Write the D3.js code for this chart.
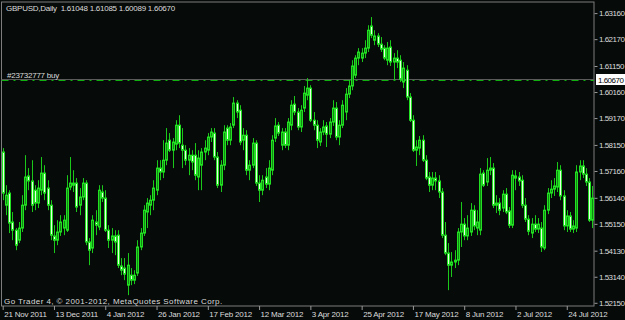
<!DOCTYPE html>
<html>
<head>
<meta charset="utf-8">
<script src="https://cdn.jsdelivr.net/npm/d3@7/dist/d3.min.js"></script>
<style>
    html, body { margin: 0; padding: 0; background: #060a09; }
    svg { display: block; }
    .lbl { font-family: 'Liberation Sans', Arial, sans-serif; font-size: 8px; letter-spacing: -0.2px; fill: #dcdcdc; }
    .plbl { letter-spacing: -0.5px; }
</style>
</head>
<body>
<div id="chart"></div>
<script>
const symbol = 'GBPUSD,Daily';
const lastBar = ['1.61048', '1.61085', '1.60089', '1.60670'];
const orderLabel = '#23732777 buy';
const orderPrice = 1.60620;
const bidPrice = 1.60670;
const copyright = 'Go Trader 4, \u00a9 2001-2012, MetaQuotes Software Corp.';

const priceTicks = [1.63160, 1.62170, 1.61150, 1.60160, 1.59170, 1.58150,
    1.57160, 1.56140, 1.55150, 1.54130, 1.53140, 1.52150];

const dateTickBars = [0, 16, 32, 48, 64, 80, 96, 112, 128, 144, 160, 176];
const dateLabels = ['21 Nov 2011', '13 Dec 2011', '4 Jan 2012', '26 Jan 2012',
    '17 Feb 2012', '12 Mar 2012', '3 Apr 2012', '25 Apr 2012',
    '17 May 2012', '8 Jun 2012', '2 Jul 2012', '24 Jul 2012'];

// open, high, low, close
const bars = [
    [1.5788, 1.5803, 1.5605, 1.5632], [1.5586, 1.5662, 1.5548, 1.5624], [1.5632, 1.5643, 1.5480, 1.5518],
    [1.5522, 1.5560, 1.5453, 1.5491], [1.5491, 1.5499, 1.5415, 1.5434], [1.5453, 1.5522, 1.5442, 1.5499],
    [1.5499, 1.5624, 1.5484, 1.5586], [1.5586, 1.5776, 1.5567, 1.5693], [1.5697, 1.5727, 1.5643, 1.5678],
    [1.5678, 1.5757, 1.5560, 1.5586], [1.5643, 1.5662, 1.5567, 1.5594], [1.5594, 1.5681, 1.5575, 1.5651],
    [1.5643, 1.5769, 1.5624, 1.5708], [1.5708, 1.5738, 1.5605, 1.5632], [1.5651, 1.5681, 1.5567, 1.5586],
    [1.5586, 1.5605, 1.5453, 1.5472], [1.5469, 1.5510, 1.5404, 1.5453], [1.5453, 1.5529, 1.5434, 1.5484],
    [1.5484, 1.5548, 1.5469, 1.5522], [1.5499, 1.5548, 1.5472, 1.5529], [1.5491, 1.5700, 1.5484, 1.5651],
    [1.5655, 1.5769, 1.5643, 1.5670], [1.5670, 1.5719, 1.5636, 1.5662], [1.5670, 1.5689, 1.5560, 1.5579],
    [1.5586, 1.5651, 1.5548, 1.5617], [1.5617, 1.5689, 1.5605, 1.5670], [1.5670, 1.5681, 1.5434, 1.5446],
    [1.5446, 1.5461, 1.5358, 1.5415], [1.5423, 1.5548, 1.5404, 1.5529], [1.5522, 1.5567, 1.5472, 1.5510],
    [1.5503, 1.5662, 1.5491, 1.5643], [1.5636, 1.5662, 1.5598, 1.5613], [1.5613, 1.5643, 1.5484, 1.5491],
    [1.5491, 1.5510, 1.5423, 1.5453], [1.5453, 1.5499, 1.5404, 1.5469], [1.5469, 1.5491, 1.5396, 1.5446],
    [1.5472, 1.5491, 1.5347, 1.5358], [1.5355, 1.5385, 1.5320, 1.5339], [1.5347, 1.5385, 1.5301, 1.5324],
    [1.5282, 1.5404, 1.5244, 1.5358], [1.5320, 1.5347, 1.5282, 1.5301], [1.5301, 1.5339, 1.5286, 1.5320],
    [1.5328, 1.5453, 1.5317, 1.5427], [1.5427, 1.5499, 1.5415, 1.5480], [1.5480, 1.5586, 1.5469, 1.5567],
    [1.5560, 1.5613, 1.5499, 1.5594], [1.5586, 1.5624, 1.5548, 1.5605], [1.5605, 1.5681, 1.5567, 1.5651],
    [1.5643, 1.5757, 1.5624, 1.5727], [1.5727, 1.5757, 1.5681, 1.5712], [1.5712, 1.5833, 1.5689, 1.5757],
    [1.5757, 1.5879, 1.5738, 1.5822], [1.5833, 1.5860, 1.5788, 1.5795], [1.5795, 1.5841, 1.5727, 1.5826],
    [1.5818, 1.5909, 1.5795, 1.5890], [1.5890, 1.5928, 1.5803, 1.5822], [1.5814, 1.5879, 1.5727, 1.5795],
    [1.5795, 1.5814, 1.5738, 1.5757], [1.5757, 1.5803, 1.5700, 1.5776], [1.5776, 1.5795, 1.5719, 1.5750],
    [1.5776, 1.5822, 1.5681, 1.5700], [1.5693, 1.5795, 1.5643, 1.5765], [1.5738, 1.5803, 1.5643, 1.5788],
    [1.5788, 1.5833, 1.5757, 1.5803], [1.5795, 1.5860, 1.5776, 1.5845], [1.5845, 1.5879, 1.5826, 1.5864],
    [1.5860, 1.5879, 1.5757, 1.5769], [1.5769, 1.5788, 1.5651, 1.5662], [1.5662, 1.5757, 1.5636, 1.5738],
    [1.5738, 1.5890, 1.5719, 1.5864], [1.5879, 1.5890, 1.5814, 1.5833], [1.5833, 1.5898, 1.5814, 1.5883],
    [1.5890, 1.5997, 1.5879, 1.5974], [1.5974, 1.5985, 1.5917, 1.5940], [1.5947, 1.5966, 1.5814, 1.5826],
    [1.5833, 1.5879, 1.5795, 1.5852], [1.5852, 1.5871, 1.5700, 1.5719], [1.5719, 1.5757, 1.5681, 1.5738],
    [1.5738, 1.5841, 1.5727, 1.5822], [1.5822, 1.5833, 1.5659, 1.5670], [1.5670, 1.5700, 1.5598, 1.5643],
    [1.5643, 1.5700, 1.5624, 1.5681], [1.5693, 1.5727, 1.5651, 1.5666], [1.5666, 1.5757, 1.5643, 1.5727],
    [1.5719, 1.5852, 1.5700, 1.5833], [1.5841, 1.5917, 1.5826, 1.5887], [1.5890, 1.5902, 1.5849, 1.5860],
    [1.5814, 1.5879, 1.5795, 1.5864], [1.5864, 1.5879, 1.5803, 1.5814], [1.5814, 1.5917, 1.5795, 1.5902],
    [1.5890, 1.5985, 1.5871, 1.5966], [1.5970, 1.6001, 1.5928, 1.5940], [1.5940, 1.5955, 1.5871, 1.5883],
    [1.5883, 1.5966, 1.5864, 1.5947], [1.5955, 1.6039, 1.5940, 1.6012], [1.6004, 1.6069, 1.5985, 1.6031],
    [1.6031, 1.6042, 1.5902, 1.5909], [1.5909, 1.5940, 1.5871, 1.5890], [1.5890, 1.5909, 1.5803, 1.5833],
    [1.5826, 1.5879, 1.5811, 1.5864], [1.5864, 1.5909, 1.5852, 1.5883], [1.5887, 1.5902, 1.5807, 1.5856],
    [1.5856, 1.5917, 1.5841, 1.5902], [1.5902, 1.5985, 1.5887, 1.5955], [1.5955, 1.5978, 1.5833, 1.5845],
    [1.5845, 1.5909, 1.5814, 1.5890], [1.5890, 1.5985, 1.5879, 1.5966], [1.5940, 1.6031, 1.5909, 1.6008],
    [1.6008, 1.6061, 1.5993, 1.6039], [1.6039, 1.6137, 1.6023, 1.6115], [1.6080, 1.6156, 1.6069, 1.6145],
    [1.6145, 1.6183, 1.6118, 1.6168], [1.6145, 1.6183, 1.6130, 1.6164], [1.6164, 1.6213, 1.6145, 1.6183],
    [1.6183, 1.6270, 1.6168, 1.6251], [1.6267, 1.6301, 1.6221, 1.6232], [1.6213, 1.6251, 1.6194, 1.6229],
    [1.6229, 1.6240, 1.6187, 1.6198], [1.6198, 1.6225, 1.6168, 1.6179], [1.6183, 1.6194, 1.6137, 1.6145],
    [1.6137, 1.6206, 1.6118, 1.6183], [1.6187, 1.6213, 1.6115, 1.6130], [1.6130, 1.6164, 1.6061, 1.6145],
    [1.6145, 1.6175, 1.6107, 1.6130], [1.6137, 1.6156, 1.6054, 1.6065], [1.6054, 1.6130, 1.6031, 1.6107],
    [1.6099, 1.6118, 1.5985, 1.5997], [1.5997, 1.6012, 1.5902, 1.5909], [1.5909, 1.5928, 1.5788, 1.5795],
    [1.5795, 1.5833, 1.5735, 1.5807], [1.5803, 1.5849, 1.5776, 1.5833], [1.5833, 1.5852, 1.5750, 1.5757],
    [1.5757, 1.5776, 1.5681, 1.5689], [1.5693, 1.5712, 1.5636, 1.5662], [1.5662, 1.5712, 1.5643, 1.5689],
    [1.5689, 1.5712, 1.5643, 1.5678], [1.5678, 1.5700, 1.5613, 1.5636], [1.5636, 1.5651, 1.5461, 1.5472],
    [1.5472, 1.5522, 1.5396, 1.5404], [1.5404, 1.5442, 1.5263, 1.5358], [1.5358, 1.5408, 1.5313, 1.5370],
    [1.5370, 1.5415, 1.5347, 1.5377], [1.5377, 1.5499, 1.5358, 1.5484], [1.5484, 1.5598, 1.5427, 1.5514],
    [1.5514, 1.5537, 1.5453, 1.5469], [1.5469, 1.5548, 1.5453, 1.5499], [1.5484, 1.5594, 1.5469, 1.5567],
    [1.5567, 1.5586, 1.5491, 1.5507], [1.5499, 1.5567, 1.5472, 1.5522], [1.5491, 1.5727, 1.5472, 1.5704],
    [1.5708, 1.5719, 1.5655, 1.5662], [1.5674, 1.5765, 1.5659, 1.5719], [1.5719, 1.5769, 1.5700, 1.5727],
    [1.5727, 1.5746, 1.5575, 1.5586], [1.5586, 1.5624, 1.5556, 1.5594], [1.5594, 1.5613, 1.5548, 1.5567],
    [1.5575, 1.5643, 1.5560, 1.5628], [1.5628, 1.5651, 1.5552, 1.5560], [1.5564, 1.5579, 1.5499, 1.5510],
    [1.5510, 1.5719, 1.5499, 1.5700], [1.5697, 1.5719, 1.5643, 1.5689], [1.5693, 1.5712, 1.5659, 1.5678],
    [1.5681, 1.5700, 1.5575, 1.5586], [1.5586, 1.5613, 1.5522, 1.5533], [1.5533, 1.5548, 1.5472, 1.5487],
    [1.5480, 1.5537, 1.5461, 1.5514], [1.5514, 1.5548, 1.5484, 1.5495], [1.5495, 1.5537, 1.5480, 1.5514],
    [1.5499, 1.5522, 1.5408, 1.5427], [1.5423, 1.5586, 1.5415, 1.5567], [1.5567, 1.5651, 1.5552, 1.5632],
    [1.5632, 1.5681, 1.5613, 1.5647], [1.5647, 1.5689, 1.5621, 1.5659], [1.5655, 1.5750, 1.5636, 1.5719],
    [1.5719, 1.5738, 1.5605, 1.5621], [1.5621, 1.5643, 1.5491, 1.5507], [1.5507, 1.5567, 1.5484, 1.5545],
    [1.5545, 1.5560, 1.5484, 1.5495], [1.5495, 1.5529, 1.5480, 1.5507], [1.5499, 1.5738, 1.5484, 1.5712],
    [1.5712, 1.5757, 1.5681, 1.5735], [1.5735, 1.5757, 1.5689, 1.5704], [1.5704, 1.5727, 1.5659, 1.5674],
    [1.5674, 1.5689, 1.5522, 1.5529], [1.5529, 1.5659, 1.5499, 1.5613]
];

function getFrame() {
    return {
        width: 625,
        height: 320,
        left: 1.5,
        top: 2,
        right: 594,
        bottom: 306
    };
}

function layout(chart) {
    const frame = getFrame();
    const svg = d3.select(chart.element)
        .append('svg')
        .attr('width', frame.width)
        .attr('height', frame.height);

    //background
    svg.append('rect')
        .attr('width', frame.width)
        .attr('height', frame.height)
        .attr('fill', '#060a09');

    //frame
    svg.append('rect')
        .attr('x', frame.left)
        .attr('y', frame.top)
        .attr('width', frame.right - frame.left)
        .attr('height', frame.bottom - frame.top)
        .attr('fill', 'none')
        .attr('stroke', '#7d7d7d')
        .attr('stroke-width', 1);

    const g = svg.append('g');
    return { svg, g };
}

function addYAxis(chart) {
    const frame = getFrame();
    const scale = d3.scaleLinear()
        .domain([1.52150, 1.63160])
        .range([302.8, 13.1]);

    const axis = d3.axisRight(scale)
        .tickValues(priceTicks)
        .tickFormat(d3.format('.5f'))
        .tickSize(3)
        .tickPadding(1.5);

    const g = chart.containers.svg.append('g')
        .attr('transform', `translate(${frame.right + 0.5},0)`)
        .call(axis);
    g.select('.domain').remove();
    g.selectAll('.tick line').attr('stroke', '#9a9a9a');
    g.selectAll('.tick text')
        .attr('class', 'lbl plbl')
        .attr('fill', null);

    return { scale, axis, g };
}

function addXAxis(chart) {
    const frame = getFrame();
    const scale = d3.scaleLinear()
        .domain([0, bars.length - 1])
        .range([2.7, 592.4]);

    const axis = d3.axisBottom(scale)
        .tickValues(dateTickBars)
        .tickFormat((d, i) => dateLabels[i])
        .tickSize(4)
        .tickPadding(1);

    const g = chart.containers.svg.append('g')
        .attr('transform', `translate(0,${frame.bottom})`)
        .call(axis);
    g.select('.domain').remove();
    g.selectAll('.tick line').attr('stroke', '#9a9a9a');
    g.selectAll('.tick text')
        .attr('class', 'lbl')
        .attr('fill', null)
        .attr('text-anchor', 'start')
        .attr('dx', 1);

    return { scale, axis, g };
}

function drawLines(chart) {
    const frame = getFrame();
    const g = chart.containers.g;
    const y = chart.y.scale;

    //bid line
    g.append('line')
        .attr('x1', frame.left)
        .attr('x2', frame.right)
        .attr('y1', Math.round(y(bidPrice)) + 0.5)
        .attr('y2', Math.round(y(bidPrice)) + 0.5)
        .attr('stroke', '#5a5a5a')
        .attr('stroke-width', 1);

    //order line
    g.append('line')
        .attr('x1', frame.left)
        .attr('x2', frame.right)
        .attr('y1', Math.round(y(orderPrice)) + 0.5)
        .attr('y2', Math.round(y(orderPrice)) + 0.5)
        .attr('stroke', '#11b011')
        .attr('stroke-width', 1)
        .attr('stroke-dasharray', '7,5,2,5');

    g.append('text')
        .attr('class', 'lbl')
        .attr('x', 7)
        .attr('y', Math.round(y(orderPrice)) - 2)
        .attr('textLength', 52)
        .attr('lengthAdjust', 'spacing')
        .text(orderLabel);
}

function drawCandles(chart) {
    const x = chart.x.scale;
    const y = chart.y.scale;
    const g = chart.containers.g.append('g');

    //wicks
    g.selectAll('line.wick')
        .data(bars)
        .join('line')
        .attr('class', 'wick')
        .attr('x1', (d, i) => Math.round(x(i)) + 0.5)
        .attr('x2', (d, i) => Math.round(x(i)) + 0.5)
        .attr('y1', d => y(d[1]))
        .attr('y2', d => y(d[2]))
        .attr('stroke', '#19c819')
        .attr('stroke-width', 1);

    //bodies
    g.selectAll('rect.body')
        .data(bars)
        .join('rect')
        .attr('class', 'body')
        .attr('x', (d, i) => Math.round(x(i)) - 0.5)
        .attr('y', d => y(Math.max(d[0], d[3])))
        .attr('width', 2)
        .attr('height', d => Math.max(1, Math.abs(y(d[0]) - y(d[3]))))
        .attr('fill', d => d[3] >= d[0] ? '#118a11' : '#e6ffe0')
        .attr('stroke', '#22e022')
        .attr('stroke-width', 1);
}

function drawLabels(chart) {
    const frame = getFrame();
    const svg = chart.containers.svg;
    const y = chart.y.scale;

    //header
    svg.append('text')
        .attr('class', 'lbl')
        .attr('x', 6)
        .attr('y', 10.5)
        .attr('xml:space', 'preserve')
        .attr('textLength', 169)
        .attr('lengthAdjust', 'spacing')
        .text(symbol + '  ' + lastBar.join(' '));

    //copyright
    svg.append('text')
        .attr('class', 'lbl')
        .attr('x', 4)
        .attr('y', 303.5)
        .attr('textLength', 218)
        .attr('lengthAdjust', 'spacing')
        .text(copyright);

    //bid box
    const by = Math.round(y(bidPrice)) + 0.5;
    svg.append('rect')
        .attr('x', frame.right + 2)
        .attr('y', by - 5.5)
        .attr('width', 30)
        .attr('height', 11)
        .attr('fill', '#ffffff');
    svg.append('text')
        .attr('class', 'lbl plbl')
        .attr('x', frame.right + 4)
        .attr('y', by + 3)
        .style('fill', '#000000')
        .text(d3.format('.5f')(bidPrice));
}

function mtChart(element) {
    const chart = { element };
    chart.containers = layout(chart);
    chart.y = addYAxis(chart);
    chart.x = addXAxis(chart);
    drawLines(chart);
    drawCandles(chart);
    drawLabels(chart);
    return chart;
}

mtChart('#chart');
</script>
</body>
</html>
